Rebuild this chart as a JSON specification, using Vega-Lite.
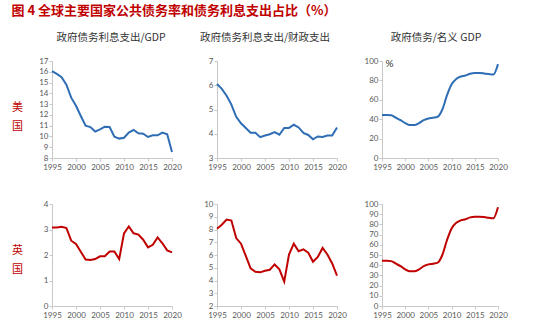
{
  "$schema": "https://vega.github.io/schema/vega-lite/v6.json",
  "background": "white",
  "padding": {"left": 11, "top": 4, "right": 5, "bottom": 5},
  "title": {"text": "图 4  全球主要国家公共债务率和债务利息支出占比（%）", "anchor": "start", "font": "Noto Sans CJK SC", "fontSize": 13, "fontWeight": "bold", "color": "#c00000", "offset": 15},
  "data": {"values": [
    {"year": 1995, "us_gdp": 16.05, "us_exp": 6.05, "debt": 44.3, "uk_gdp": 3.08, "uk_exp": 8.06},
    {"year": 1996, "us_gdp": 15.8, "us_exp": 5.85, "debt": 44.3, "uk_gdp": 3.08, "uk_exp": 8.37},
    {"year": 1997, "us_gdp": 15.5, "us_exp": 5.57, "debt": 44.0, "uk_gdp": 3.11, "uk_exp": 8.78},
    {"year": 1998, "us_gdp": 14.8, "us_exp": 5.2, "debt": 41.5, "uk_gdp": 3.06, "uk_exp": 8.7},
    {"year": 1999, "us_gdp": 13.6, "us_exp": 4.7, "debt": 39.0, "uk_gdp": 2.56, "uk_exp": 7.33},
    {"year": 2000, "us_gdp": 12.85, "us_exp": 4.43, "debt": 36.0, "uk_gdp": 2.43, "uk_exp": 6.89},
    {"year": 2001, "us_gdp": 11.9, "us_exp": 4.24, "debt": 34.0, "uk_gdp": 2.13, "uk_exp": 5.93},
    {"year": 2002, "us_gdp": 11.0, "us_exp": 4.04, "debt": 34.0, "uk_gdp": 1.82, "uk_exp": 4.95},
    {"year": 2003, "us_gdp": 10.87, "us_exp": 4.04, "debt": 36.0, "uk_gdp": 1.8, "uk_exp": 4.69},
    {"year": 2004, "us_gdp": 10.45, "us_exp": 3.86, "debt": 39.0, "uk_gdp": 1.84, "uk_exp": 4.64},
    {"year": 2005, "us_gdp": 10.65, "us_exp": 3.93, "debt": 40.8, "uk_gdp": 1.95, "uk_exp": 4.77},
    {"year": 2006, "us_gdp": 10.9, "us_exp": 3.98, "debt": 41.5, "uk_gdp": 1.95, "uk_exp": 4.84},
    {"year": 2007, "us_gdp": 10.88, "us_exp": 4.07, "debt": 42.5, "uk_gdp": 2.14, "uk_exp": 5.26},
    {"year": 2008, "us_gdp": 9.97, "us_exp": 3.96, "debt": 50.0, "uk_gdp": 2.14, "uk_exp": 4.87},
    {"year": 2009, "us_gdp": 9.8, "us_exp": 4.24, "debt": 64.5, "uk_gdp": 1.84, "uk_exp": 3.91},
    {"year": 2010, "us_gdp": 9.88, "us_exp": 4.24, "debt": 76.0, "uk_gdp": 2.85, "uk_exp": 6.04},
    {"year": 2011, "us_gdp": 10.35, "us_exp": 4.37, "debt": 81.5, "uk_gdp": 3.12, "uk_exp": 6.89},
    {"year": 2012, "us_gdp": 10.6, "us_exp": 4.26, "debt": 84.0, "uk_gdp": 2.85, "uk_exp": 6.3},
    {"year": 2013, "us_gdp": 10.3, "us_exp": 4.03, "debt": 85.0, "uk_gdp": 2.8, "uk_exp": 6.45},
    {"year": 2014, "us_gdp": 10.25, "us_exp": 3.95, "debt": 86.9, "uk_gdp": 2.6, "uk_exp": 6.19},
    {"year": 2015, "us_gdp": 9.95, "us_exp": 3.77, "debt": 87.6, "uk_gdp": 2.3, "uk_exp": 5.47},
    {"year": 2016, "us_gdp": 10.1, "us_exp": 3.89, "debt": 87.6, "uk_gdp": 2.4, "uk_exp": 5.85},
    {"year": 2017, "us_gdp": 10.1, "us_exp": 3.87, "debt": 87.2, "uk_gdp": 2.69, "uk_exp": 6.55},
    {"year": 2018, "us_gdp": 10.35, "us_exp": 3.93, "debt": 86.5, "uk_gdp": 2.46, "uk_exp": 6.04},
    {"year": 2019, "us_gdp": 10.2, "us_exp": 3.93, "debt": 86.0, "uk_gdp": 2.18, "uk_exp": 5.34},
    {"year": 2020, "us_gdp": 8.55, "us_exp": 4.26, "debt": 96.8, "uk_gdp": 2.1, "uk_exp": 4.38}
  ]},
  "config": {
    "view": {"stroke": null},
    "axis": {"domainColor": "#c8c8c8", "tickColor": "#c8c8c8", "labelColor": "#595959", "labelFont": "Lato", "labelFontSize": 8, "grid": false, "tickSize": 3, "labelPadding": 1, "labelOverlap": false, "labelFlush": false, "titleFontWeight": "normal"},
    "axisX": {"labelPadding": 2.5},
    "title": {"font": "Noto Sans CJK SC", "fontSize": 10.5, "fontWeight": "normal", "color": "#333333"}
  },
  "spacing": 28,
  "vconcat": [
    {
      "bounds": "flush",
      "spacing": 45,
      "hconcat": [
        {
          "width": 120, "height": 97,
          "title": {"text": "政府债务利息支出/GDP", "frame": "group", "anchor": "middle", "offset": 14, "dx": -1},
          "mark": {"type": "line", "color": "#2f6db5", "strokeWidth": 2},
          "encoding": {
            "x": {"field": "year", "type": "quantitative", "scale": {"domain": [1995, 2020], "nice": false, "zero": false}, "axis": {"values": [1995, 2000, 2005, 2010, 2015, 2020], "format": "d", "title": null}},
            "y": {"field": "us_gdp", "type": "quantitative", "scale": {"domain": [8, 17], "nice": false, "zero": false}, "axis": {"values": [8, 9, 10, 11, 12, 13, 14, 15, 16, 17], "title": ["美", "国"], "titleAngle": 0, "titleX": -35, "titleY": 40, "titleAlign": "center", "titleBaseline": "top", "titleColor": "#c00000", "titleFont": "Noto Sans CJK SC", "titleFontSize": 11, "titleLineHeight": 19}}
          }
        },
        {
          "width": 120, "height": 97,
          "title": {"text": "政府债务利息支出/财政支出", "frame": "group", "anchor": "middle", "offset": 14, "dx": -12},
          "mark": {"type": "line", "color": "#2f6db5", "strokeWidth": 2},
          "encoding": {
            "x": {"field": "year", "type": "quantitative", "scale": {"domain": [1995, 2020], "nice": false, "zero": false}, "axis": {"values": [1995, 2000, 2005, 2010, 2015, 2020], "format": "d", "title": null}},
            "y": {"field": "us_exp", "type": "quantitative", "scale": {"domain": [3, 7], "nice": false, "zero": false}, "axis": {"values": [3, 4, 5, 6, 7], "title": null}}
          }
        },
        {
          "width": 116, "height": 97,
          "title": {"text": "政府债务/名义 GDP", "frame": "group", "anchor": "middle", "offset": 14, "dx": -4},
          "mark": {"type": "line", "color": "#2f6db5", "strokeWidth": 2, "interpolate": "monotone"},
          "encoding": {
            "x": {"field": "year", "type": "quantitative", "scale": {"domain": [1995, 2020], "nice": false, "zero": false}, "axis": {"values": [1995, 2000, 2005, 2010, 2015, 2020], "format": "d", "title": null}},
            "y": {"field": "debt", "type": "quantitative", "scale": {"domain": [0, 100], "nice": false}, "axis": {"values": [0, 20, 40, 60, 80, 100], "title": "%", "titleAngle": 0, "titleX": 3, "titleY": 2, "titleAlign": "left", "titleBaseline": "middle", "titleColor": "#333333", "titleFont": "Lato", "titleFontSize": 10}}
          }
        }
      ]
    },
    {
      "bounds": "flush",
      "spacing": 45,
      "hconcat": [
        {
          "width": 120, "height": 102,
          "mark": {"type": "line", "color": "#c00000", "strokeWidth": 2},
          "encoding": {
            "x": {"field": "year", "type": "quantitative", "scale": {"domain": [1995, 2020], "nice": false, "zero": false}, "axis": {"values": [1995, 2000, 2005, 2010, 2015, 2020], "format": "d", "title": null}},
            "y": {"field": "uk_gdp", "type": "quantitative", "scale": {"domain": [0, 4], "nice": false}, "axis": {"values": [0, 1, 2, 3, 4], "title": ["英", "国"], "titleAngle": 0, "titleX": -35, "titleY": 40, "titleAlign": "center", "titleBaseline": "top", "titleColor": "#c00000", "titleFont": "Noto Sans CJK SC", "titleFontSize": 11, "titleLineHeight": 19}}
          }
        },
        {
          "width": 120, "height": 102,
          "mark": {"type": "line", "color": "#c00000", "strokeWidth": 2},
          "encoding": {
            "x": {"field": "year", "type": "quantitative", "scale": {"domain": [1995, 2020], "nice": false, "zero": false}, "axis": {"values": [1995, 2000, 2005, 2010, 2015, 2020], "format": "d", "title": null}},
            "y": {"field": "uk_exp", "type": "quantitative", "scale": {"domain": [2, 10], "nice": false, "zero": false}, "axis": {"values": [2, 3, 4, 5, 6, 7, 8, 9, 10], "title": null}}
          }
        },
        {
          "width": 116, "height": 102,
          "mark": {"type": "line", "color": "#c00000", "strokeWidth": 2, "interpolate": "monotone"},
          "encoding": {
            "x": {"field": "year", "type": "quantitative", "scale": {"domain": [1995, 2020], "nice": false, "zero": false}, "axis": {"values": [1995, 2000, 2005, 2010, 2015, 2020], "format": "d", "title": null}},
            "y": {"field": "debt", "type": "quantitative", "scale": {"domain": [0, 100], "nice": false}, "axis": {"values": [0, 10, 20, 30, 40, 50, 60, 70, 80, 90, 100], "title": null}}
          }
        }
      ]
    }
  ]
}
